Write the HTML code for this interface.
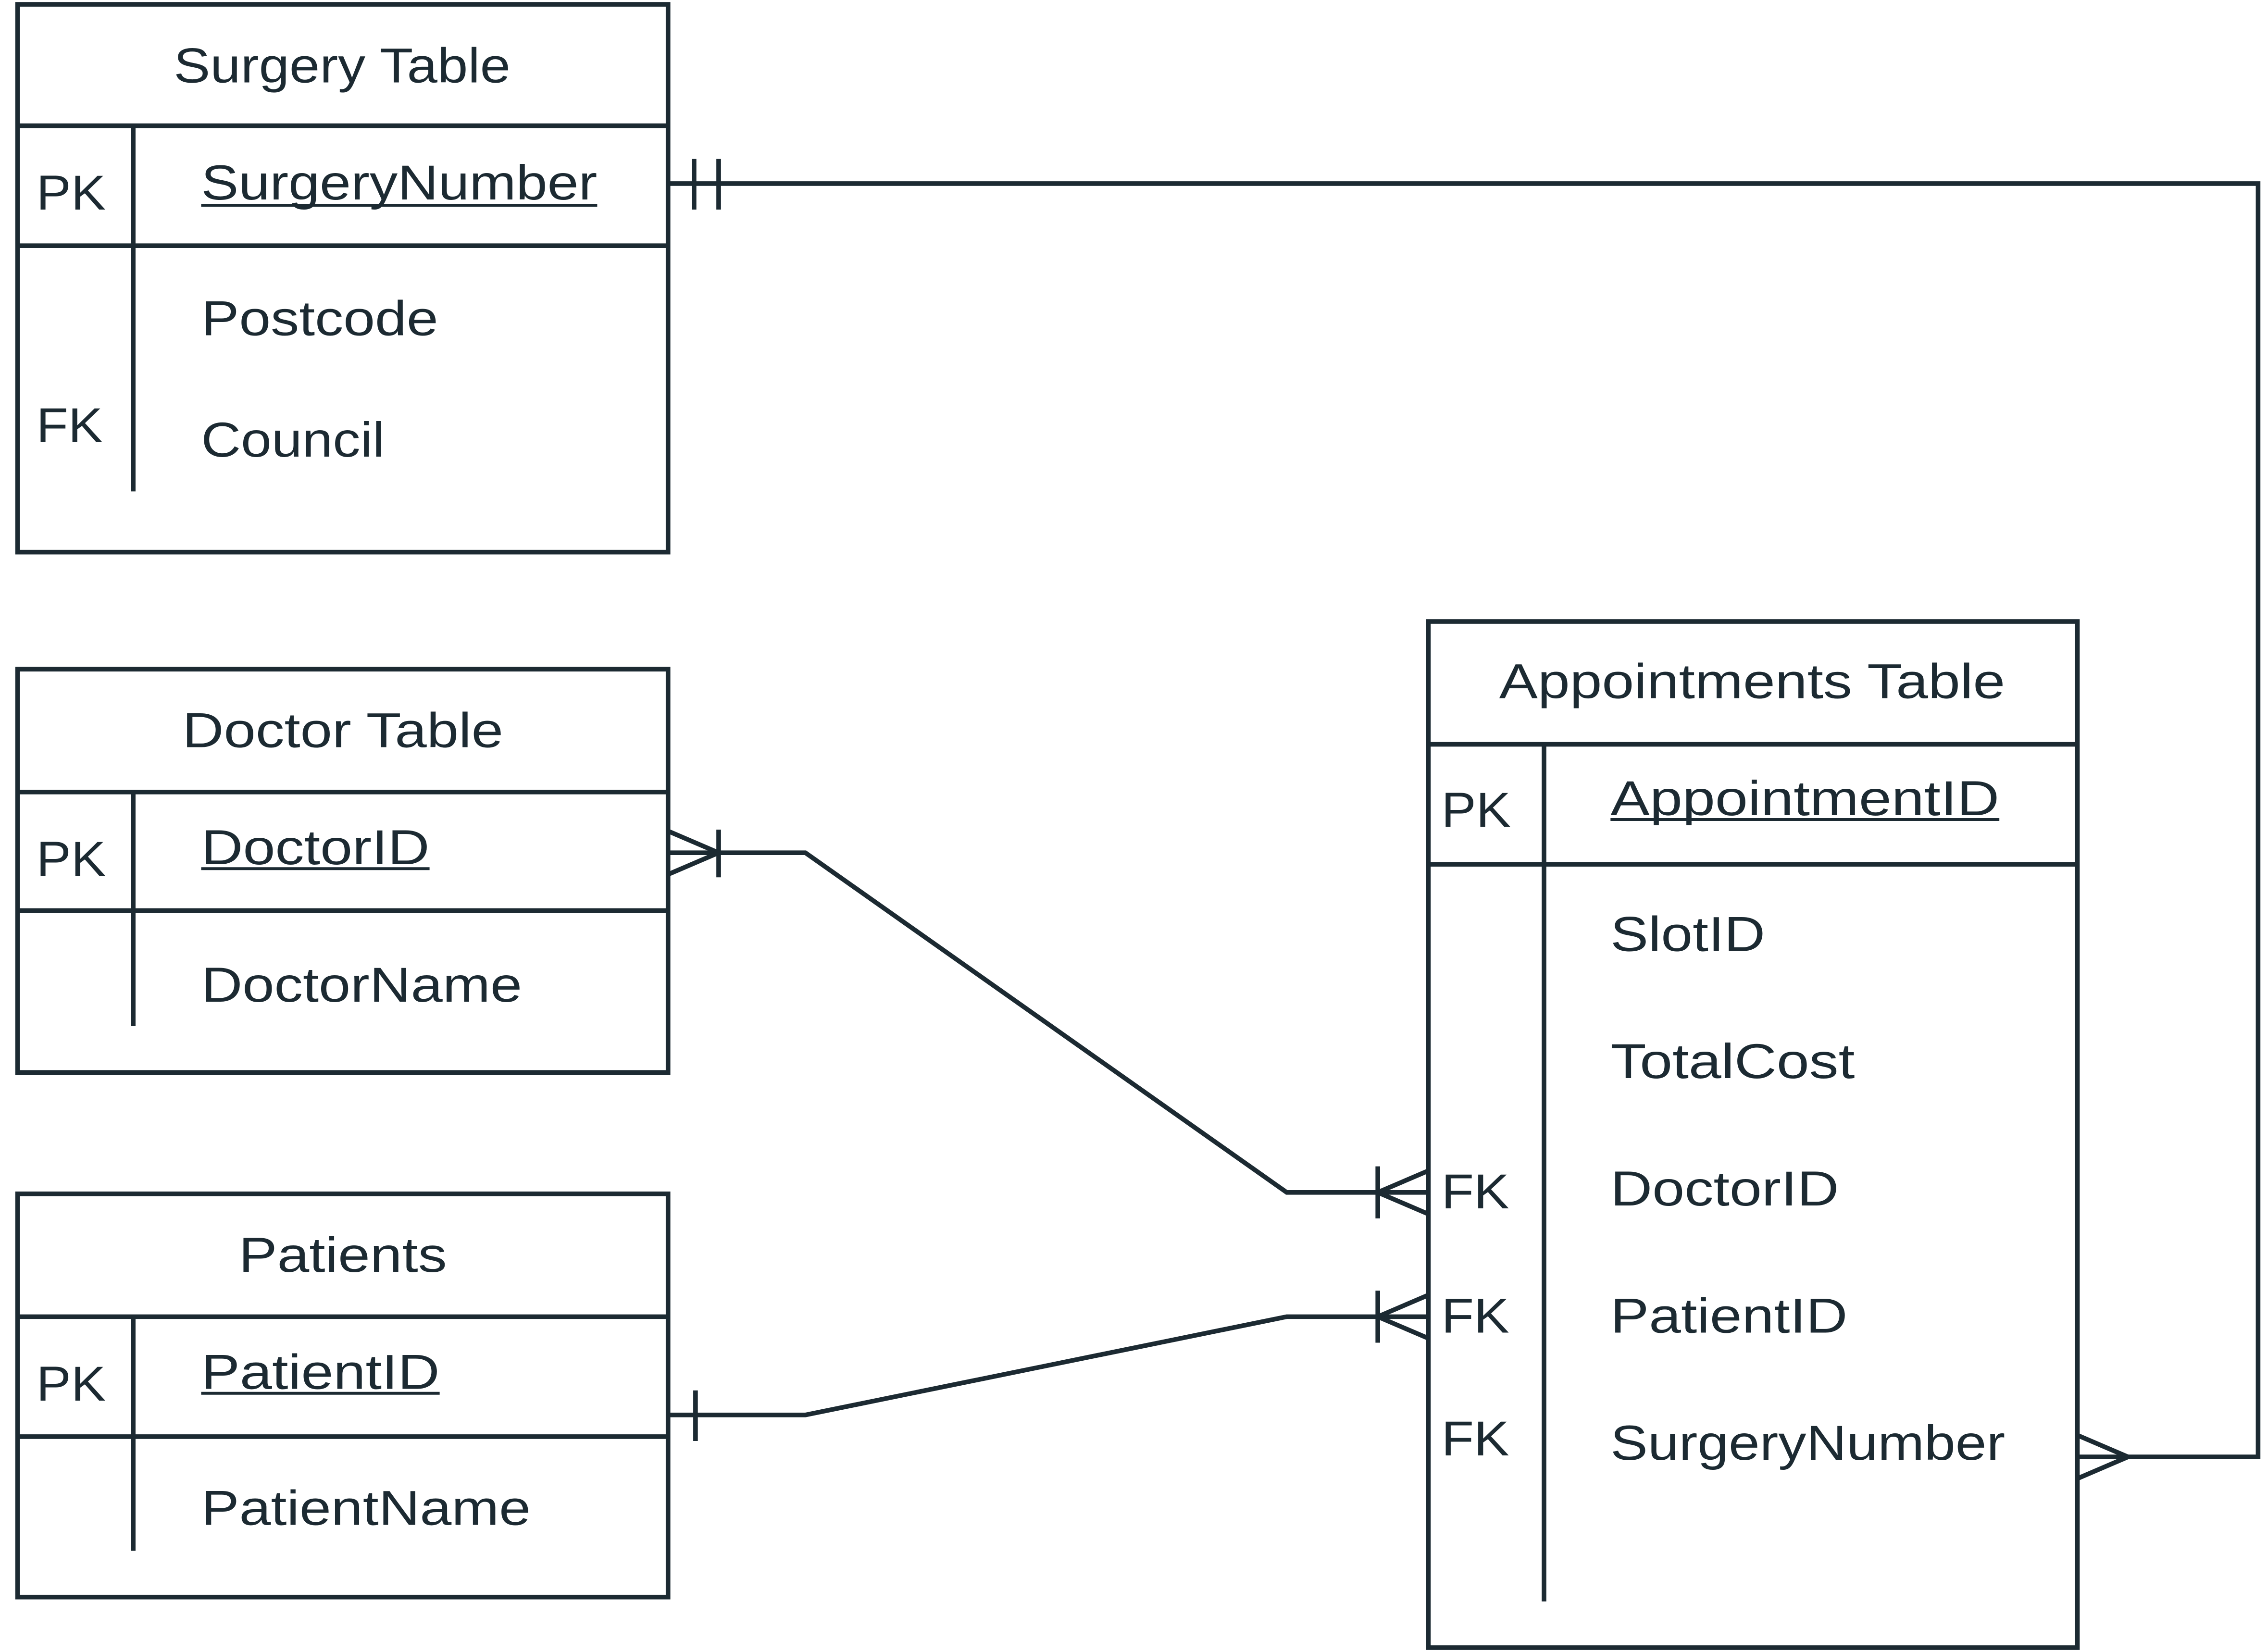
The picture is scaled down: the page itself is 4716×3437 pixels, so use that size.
<!DOCTYPE html>
<html><head><meta charset="utf-8"><style>
html,body{margin:0;padding:0;background:#fff;}
svg{display:block;}
text{font-family:"Liberation Sans",sans-serif;fill:#1c2a32;font-size:34px;}
</style></head><body>
<svg width="4716" height="3437" viewBox="0 0 1568 1143" xmlns="http://www.w3.org/2000/svg">
<g fill="none" stroke="#1c2a32" stroke-width="3.2">
<rect x="12" y="3" width="450" height="379"/>
<line x1="12" y1="87" x2="462" y2="87"/>
<line x1="12" y1="170" x2="462" y2="170"/>
<line x1="92" y1="87" x2="92" y2="340"/>
<rect x="12" y="463" width="450" height="279"/>
<line x1="12" y1="548" x2="462" y2="548"/>
<line x1="12" y1="630" x2="462" y2="630"/>
<line x1="92" y1="548" x2="92" y2="710"/>
<rect x="12" y="826" width="450" height="279"/>
<line x1="12" y1="911" x2="462" y2="911"/>
<line x1="12" y1="994" x2="462" y2="994"/>
<line x1="92" y1="911" x2="92" y2="1073"/>
<rect x="988" y="430" width="449" height="710"/>
<line x1="988" y1="515" x2="1437" y2="515"/>
<line x1="988" y1="598" x2="1437" y2="598"/>
<line x1="1068" y1="515" x2="1068" y2="1108"/>
<polyline points="462,127 1562,127 1562,1008 1437,1008"/>
<line x1="480" y1="110" x2="480" y2="145"/>
<line x1="497" y1="110" x2="497" y2="145"/>
<line x1="1437" y1="993" x2="1472" y2="1008"/>
<line x1="1437" y1="1023" x2="1472" y2="1008"/>
<polyline points="462,590 557,590 890,825 988,825"/>
<line x1="462" y1="575" x2="497" y2="590"/>
<line x1="462" y1="605" x2="497" y2="590"/>
<line x1="497" y1="574" x2="497" y2="607"/>
<line x1="988" y1="810" x2="953" y2="825"/>
<line x1="988" y1="840" x2="953" y2="825"/>
<line x1="953" y1="807" x2="953" y2="843"/>
<polyline points="462,979 557,979 890,911 988,911"/>
<line x1="481" y1="962" x2="481" y2="997"/>
<line x1="988" y1="896" x2="953" y2="911"/>
<line x1="988" y1="926" x2="953" y2="911"/>
<line x1="953" y1="893" x2="953" y2="929"/>
<line x1="139" y1="142" x2="413" y2="142" stroke-width="2"/>
<line x1="139" y1="601" x2="297" y2="601" stroke-width="2"/>
<line x1="139" y1="964" x2="304" y2="964" stroke-width="2"/>
<line x1="1114" y1="567" x2="1383" y2="567" stroke-width="2"/>
</g>
<g lengthAdjust="spacingAndGlyphs">
<text x="120" y="57" textLength="233" lengthAdjust="spacingAndGlyphs">Surgery Table</text>
<text x="25" y="145" textLength="48" lengthAdjust="spacingAndGlyphs">PK</text>
<text x="139" y="138" textLength="274" lengthAdjust="spacingAndGlyphs">SurgeryNumber</text>
<text x="139" y="232" textLength="164" lengthAdjust="spacingAndGlyphs">Postcode</text>
<text x="25" y="306" textLength="46" lengthAdjust="spacingAndGlyphs">FK</text>
<text x="139" y="316" textLength="127" lengthAdjust="spacingAndGlyphs">Council</text>

<text x="126" y="517" textLength="222" lengthAdjust="spacingAndGlyphs">Doctor Table</text>
<text x="25" y="606" textLength="48" lengthAdjust="spacingAndGlyphs">PK</text>
<text x="139" y="598" textLength="158" lengthAdjust="spacingAndGlyphs">DoctorID</text>
<text x="139" y="693" textLength="222" lengthAdjust="spacingAndGlyphs">DoctorName</text>

<text x="165" y="880" textLength="144" lengthAdjust="spacingAndGlyphs">Patients</text>
<text x="25" y="969" textLength="48" lengthAdjust="spacingAndGlyphs">PK</text>
<text x="139" y="961" textLength="165" lengthAdjust="spacingAndGlyphs">PatientID</text>
<text x="139" y="1055" textLength="228" lengthAdjust="spacingAndGlyphs">PatientName</text>

<text x="1037" y="483" textLength="350" lengthAdjust="spacingAndGlyphs">Appointments Table</text>
<text x="997" y="572" textLength="48" lengthAdjust="spacingAndGlyphs">PK</text>
<text x="1114" y="564" textLength="269" lengthAdjust="spacingAndGlyphs">AppointmentID</text>
<text x="1114" y="658" textLength="107" lengthAdjust="spacingAndGlyphs">SlotID</text>
<text x="1114" y="746" textLength="169" lengthAdjust="spacingAndGlyphs">TotalCost</text>
<text x="997" y="836" textLength="47" lengthAdjust="spacingAndGlyphs">FK</text>
<text x="1114" y="834" textLength="158" lengthAdjust="spacingAndGlyphs">DoctorID</text>
<text x="997" y="922" textLength="47" lengthAdjust="spacingAndGlyphs">FK</text>
<text x="1114" y="922" textLength="164" lengthAdjust="spacingAndGlyphs">PatientID</text>
<text x="997" y="1007" textLength="47" lengthAdjust="spacingAndGlyphs">FK</text>
<text x="1114" y="1010" textLength="273" lengthAdjust="spacingAndGlyphs">SurgeryNumber</text>
</g>
</svg>
</body></html>
